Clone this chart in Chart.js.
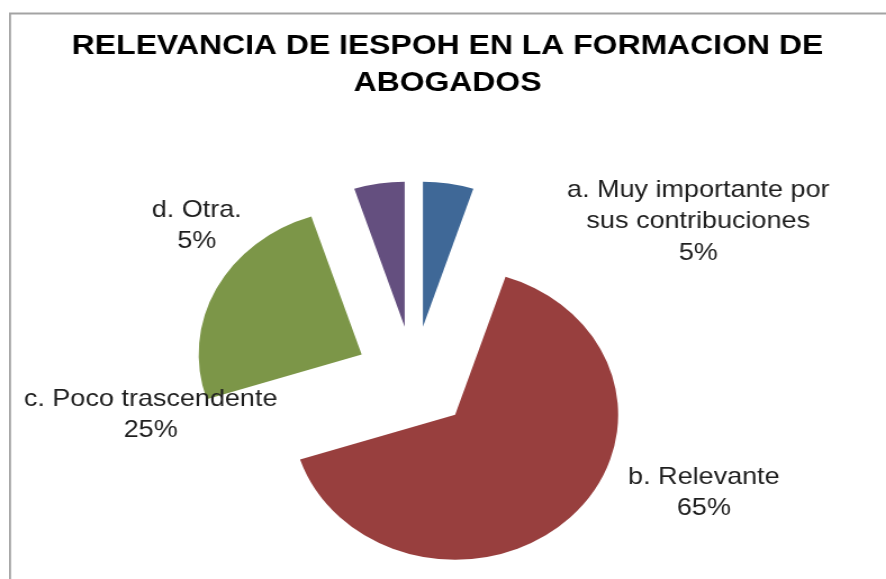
<!DOCTYPE html>
<html>
<head>
<meta charset="utf-8">
<title>Relevancia de IESPOH</title>
<script src="https://cdn.jsdelivr.net/npm/chart.js@4.4.1/dist/chart.umd.min.js"></script>
<style>
  html, body { margin: 0; padding: 0; background: #fff; overflow: hidden; }
  /* the source picture is a little wider than tall, so stretch the canvas sideways */
  #wrap { width: 788px; height: 579px; transform: scaleX(1.1244); transform-origin: 0 0; }
</style>
</head>
<body>
<div id="wrap"><canvas id="pieChart" width="788" height="579"></canvas></div>
<script>
// ==========================================
// 1. DATA
// ==========================================
const titleLines = ['RELEVANCIA DE IESPOH EN LA FORMACION DE', 'ABOGADOS'];
const categories = [
    ['a. Muy importante por', 'sus contribuciones'],
    ['b. Relevante'],
    ['c. Poco trascendente'],
    ['d. Otra.']
];
const values = [5, 65, 25, 5];
const sliceColors = ['#3f6897', '#983f3e', '#7c9648', '#644f7f'];

// where each data label sits (canvas px, before the sideways stretch)
const labelAnchors = [
    { x: 621, y: 190 },
    { x: 626, y: 477 },
    { x: 134, y: 399 },
    { x: 175, y: 210 }
];

const EXPLODE = 52;   // distance every slice is pulled out from the centre
const FONT = "'Liberation Sans', Arial, sans-serif";

// ==========================================
// 2. PLUGINS
// ==========================================

// pull each slice out along its middle angle
const explodePlugin = {
    id: 'explode',
    afterDatasetsUpdate(chart) {
        chart.getDatasetMeta(0).data.forEach(arc => {
            const mid = (arc.startAngle + arc.endAngle) / 2;
            arc.x += Math.cos(mid) * EXPLODE;
            arc.y += Math.sin(mid) * EXPLODE;
        });
    }
};

// grey frame + title
const framePlugin = {
    id: 'frame',
    beforeDraw(chart) {
        const { ctx, width, height } = chart;
        ctx.save();
        ctx.strokeStyle = '#a3a3a3';
        ctx.lineWidth = 1.8;
        ctx.beginPath();
        ctx.moveTo(width, 13.5);
        ctx.lineTo(8.9, 13.5);
        ctx.lineTo(8.9, height);
        ctx.stroke();

        ctx.fillStyle = '#000';
        ctx.font = `bold 28.4px ${FONT}`;
        ctx.textAlign = 'center';
        ctx.textBaseline = 'middle';
        titleLines.forEach((line, i) => ctx.fillText(line, 398, 46 + i * 37));
        ctx.restore();
    }
};

// category name + percentage next to each slice
const labelPlugin = {
    id: 'sliceLabels',
    afterDatasetsDraw(chart) {
        const { ctx } = chart;
        const total = values.reduce((a, b) => a + b, 0);
        ctx.save();
        ctx.fillStyle = '#1e1e1e';
        ctx.font = `24px ${FONT}`;
        ctx.textAlign = 'center';
        ctx.textBaseline = 'middle';
        categories.forEach((lines, i) => {
            const pct = Math.round(values[i] / total * 100) + '%';
            const { x, y } = labelAnchors[i];
            [...lines, pct].forEach((txt, j) => ctx.fillText(txt, x, y + j * 31.5));
        });
        ctx.restore();
    }
};

// ==========================================
// 3. CHART
// ==========================================
new Chart(document.getElementById('pieChart'), {
    type: 'pie',
    data: {
        labels: categories.map(l => l.join(' ')),
        datasets: [{
            data: values,
            backgroundColor: sliceColors,
            borderWidth: 0
        }]
    },
    options: {
        responsive: false,
        animation: false,
        events: [],
        radius: 145,
        layout: { padding: { left: 0, right: 52, top: 177, bottom: 0 } },
        plugins: {
            legend: { display: false },
            title: { display: false },
            tooltip: { enabled: false }
        }
    },
    plugins: [explodePlugin, framePlugin, labelPlugin]
});
</script>
</body>
</html>
